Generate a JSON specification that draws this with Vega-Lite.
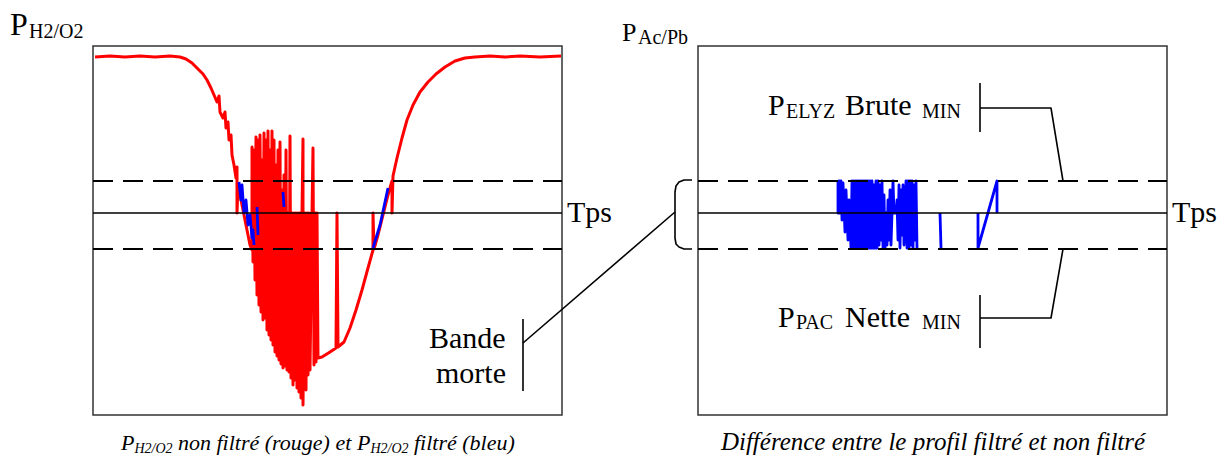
{
  "$schema": "https://vega.github.io/schema/vega-lite/v6.json",
  "width": 1228,
  "height": 462,
  "padding": 0,
  "autosize": {"type": "fit", "contains": "padding"},
  "background": "white",
  "config": {"view": {"stroke": null}},
  "datasets": {
    "boxes": [
      {"x": 93, "x2": 562, "y": 46, "y2": 415},
      {"x": 698, "x2": 1167, "y": 46, "y2": 415}
    ],
    "dashes": [
      {"x": 93, "x2": 562, "y": 181},
      {"x": 93, "x2": 562, "y": 249},
      {"x": 698, "x2": 1167, "y": 181},
      {"x": 698, "x2": 1167, "y": 249}
    ],
    "black": [
      {"s": "tpsL", "i": 1, "x": 93, "y": 213},
      {"s": "tpsL", "i": 2, "x": 562, "y": 213},
      {"s": "tpsR", "i": 1, "x": 698, "y": 213},
      {"s": "tpsR", "i": 2, "x": 1167, "y": 213},
      {"s": "bmV", "i": 1, "x": 523, "y": 319},
      {"s": "bmV", "i": 2, "x": 523, "y": 391},
      {"s": "bmC", "i": 1, "x": 523, "y": 343},
      {"s": "bmC", "i": 2, "x": 675, "y": 212},
      {"s": "brace", "i": 1, "x": 692, "y": 180},
      {"s": "brace", "i": 2, "x": 684, "y": 180},
      {"s": "brace", "i": 3, "x": 679, "y": 182},
      {"s": "brace", "i": 4, "x": 676, "y": 186},
      {"s": "brace", "i": 5, "x": 675, "y": 192},
      {"s": "brace", "i": 6, "x": 675, "y": 238},
      {"s": "brace", "i": 7, "x": 676, "y": 244},
      {"s": "brace", "i": 8, "x": 679, "y": 247},
      {"s": "brace", "i": 9, "x": 684, "y": 249},
      {"s": "brace", "i": 10, "x": 692, "y": 249},
      {"s": "upV", "i": 1, "x": 980, "y": 83},
      {"s": "upV", "i": 2, "x": 980, "y": 132},
      {"s": "upH", "i": 1, "x": 980, "y": 108},
      {"s": "upH", "i": 2, "x": 1051, "y": 108},
      {"s": "upH", "i": 3, "x": 1063, "y": 181},
      {"s": "loV", "i": 1, "x": 980, "y": 295},
      {"s": "loV", "i": 2, "x": 980, "y": 348},
      {"s": "loH", "i": 1, "x": 980, "y": 318},
      {"s": "loH", "i": 2, "x": 1051, "y": 318},
      {"s": "loH", "i": 3, "x": 1063, "y": 249}
    ],
    "red": [
      {"i": 1, "x": 95, "y": 57}, {"i": 2, "x": 110, "y": 56}, {"i": 3, "x": 125, "y": 57}, {"i": 4, "x": 140, "y": 56},
      {"i": 5, "x": 155, "y": 57}, {"i": 6, "x": 170, "y": 56}, {"i": 7, "x": 180, "y": 57}, {"i": 8, "x": 186, "y": 59},
      {"i": 9, "x": 192, "y": 63}, {"i": 10, "x": 198, "y": 69}, {"i": 11, "x": 203, "y": 74}, {"i": 12, "x": 207, "y": 80},
      {"i": 13, "x": 211, "y": 88}, {"i": 14, "x": 214, "y": 95}, {"i": 15, "x": 217, "y": 102}, {"i": 16, "x": 219, "y": 96},
      {"i": 17, "x": 220, "y": 112}, {"i": 18, "x": 223, "y": 118}, {"i": 19, "x": 225, "y": 112}, {"i": 20, "x": 226, "y": 128},
      {"i": 21, "x": 228, "y": 122}, {"i": 22, "x": 229, "y": 140}, {"i": 23, "x": 231, "y": 135}, {"i": 24, "x": 232, "y": 155},
      {"i": 25, "x": 234, "y": 165}, {"i": 26, "x": 236, "y": 178}, {"i": 27, "x": 237, "y": 167}, {"i": 28, "x": 237, "y": 213},
      {"i": 29, "x": 238, "y": 185}, {"i": 30, "x": 241, "y": 200}, {"i": 31, "x": 244, "y": 215}, {"i": 32, "x": 247, "y": 230},
      {"i": 33, "x": 250, "y": 245}, {"i": 34, "x": 252, "y": 250},
      {"i": 35, "x": 252, "y": 147}, {"i": 36, "x": 253, "y": 262}, {"i": 37, "x": 254, "y": 150}, {"i": 38, "x": 255, "y": 280},
      {"i": 39, "x": 256, "y": 137}, {"i": 40, "x": 257, "y": 295}, {"i": 41, "x": 258, "y": 140}, {"i": 42, "x": 259, "y": 305},
      {"i": 43, "x": 260, "y": 135}, {"i": 44, "x": 261, "y": 312}, {"i": 45, "x": 262, "y": 160}, {"i": 46, "x": 263, "y": 320},
      {"i": 47, "x": 264, "y": 133}, {"i": 48, "x": 265, "y": 318}, {"i": 49, "x": 266, "y": 140}, {"i": 50, "x": 267, "y": 330},
      {"i": 51, "x": 268, "y": 131}, {"i": 52, "x": 269, "y": 335}, {"i": 53, "x": 270, "y": 150}, {"i": 54, "x": 271, "y": 340},
      {"i": 55, "x": 272, "y": 131}, {"i": 56, "x": 273, "y": 345}, {"i": 57, "x": 274, "y": 140}, {"i": 58, "x": 275, "y": 352},
      {"i": 59, "x": 276, "y": 165}, {"i": 60, "x": 277, "y": 356}, {"i": 61, "x": 278, "y": 150}, {"i": 62, "x": 279, "y": 360},
      {"i": 63, "x": 280, "y": 142}, {"i": 64, "x": 281, "y": 364}, {"i": 65, "x": 282, "y": 190}, {"i": 66, "x": 283, "y": 368},
      {"i": 67, "x": 284, "y": 175}, {"i": 68, "x": 285, "y": 366}, {"i": 69, "x": 286, "y": 150}, {"i": 70, "x": 287, "y": 370},
      {"i": 71, "x": 288, "y": 213}, {"i": 72, "x": 289, "y": 372}, {"i": 73, "x": 290, "y": 136}, {"i": 74, "x": 291, "y": 378},
      {"i": 75, "x": 292, "y": 213}, {"i": 76, "x": 293, "y": 385}, {"i": 77, "x": 294, "y": 213}, {"i": 78, "x": 295, "y": 380},
      {"i": 79, "x": 296, "y": 213}, {"i": 80, "x": 297, "y": 388}, {"i": 81, "x": 298, "y": 213}, {"i": 82, "x": 299, "y": 392},
      {"i": 83, "x": 300, "y": 213}, {"i": 84, "x": 301, "y": 398}, {"i": 85, "x": 302, "y": 213}, {"i": 86, "x": 303, "y": 139},
      {"i": 87, "x": 303, "y": 405}, {"i": 88, "x": 305, "y": 213}, {"i": 89, "x": 306, "y": 390}, {"i": 90, "x": 307, "y": 213},
      {"i": 91, "x": 308, "y": 375}, {"i": 92, "x": 309, "y": 213}, {"i": 93, "x": 310, "y": 370}, {"i": 94, "x": 312, "y": 213},
      {"i": 95, "x": 313, "y": 148}, {"i": 96, "x": 314, "y": 365}, {"i": 97, "x": 315, "y": 213}, {"i": 98, "x": 316, "y": 362},
      {"i": 99, "x": 317, "y": 213}, {"i": 100, "x": 318, "y": 358},
      {"i": 101, "x": 322, "y": 357}, {"i": 102, "x": 330, "y": 352}, {"i": 103, "x": 336, "y": 348}, {"i": 104, "x": 337, "y": 213},
      {"i": 105, "x": 338, "y": 347}, {"i": 106, "x": 344, "y": 342}, {"i": 107, "x": 350, "y": 328}, {"i": 108, "x": 356, "y": 310},
      {"i": 109, "x": 362, "y": 290}, {"i": 110, "x": 368, "y": 268}, {"i": 111, "x": 373, "y": 250}, {"i": 112, "x": 373, "y": 213},
      {"i": 113, "x": 374, "y": 249}, {"i": 114, "x": 378, "y": 235}, {"i": 115, "x": 383, "y": 215}, {"i": 116, "x": 388, "y": 195},
      {"i": 117, "x": 392, "y": 181}, {"i": 118, "x": 392, "y": 213}, {"i": 119, "x": 393, "y": 176}, {"i": 120, "x": 397, "y": 158},
      {"i": 121, "x": 402, "y": 138}, {"i": 122, "x": 407, "y": 120}, {"i": 123, "x": 413, "y": 105}, {"i": 124, "x": 420, "y": 92},
      {"i": 125, "x": 428, "y": 82}, {"i": 126, "x": 436, "y": 74}, {"i": 127, "x": 445, "y": 67}, {"i": 128, "x": 455, "y": 61},
      {"i": 129, "x": 465, "y": 58}, {"i": 130, "x": 475, "y": 57}, {"i": 131, "x": 490, "y": 56}, {"i": 132, "x": 505, "y": 57},
      {"i": 133, "x": 520, "y": 56}, {"i": 134, "x": 540, "y": 57}, {"i": 135, "x": 561, "y": 56}
    ],
    "blue": [
      {"s": "L1", "i": 1, "x": 239, "y": 182}, {"s": "L1", "i": 2, "x": 241, "y": 200}, {"s": "L1", "i": 3, "x": 242, "y": 185},
      {"s": "L1", "i": 4, "x": 244, "y": 213}, {"s": "L1", "i": 5, "x": 246, "y": 200}, {"s": "L1", "i": 6, "x": 248, "y": 225},
      {"s": "L1", "i": 7, "x": 250, "y": 215}, {"s": "L1", "i": 8, "x": 252, "y": 238}, {"s": "L1", "i": 9, "x": 253, "y": 230},
      {"s": "L1", "i": 10, "x": 254, "y": 245},
      {"s": "L2", "i": 1, "x": 257, "y": 207}, {"s": "L2", "i": 2, "x": 258, "y": 235},
      {"s": "L3", "i": 1, "x": 283, "y": 192}, {"s": "L3", "i": 2, "x": 284, "y": 207},
      {"s": "L4", "i": 1, "x": 373, "y": 248}, {"s": "L4", "i": 2, "x": 380, "y": 225}, {"s": "L4", "i": 3, "x": 388, "y": 188},
      {"s": "R1", "i": 1, "x": 838, "y": 181}, {"s": "R1", "i": 2, "x": 838, "y": 213}, {"s": "R1", "i": 3, "x": 839, "y": 181},
      {"s": "R1", "i": 4, "x": 840, "y": 213}, {"s": "R1", "i": 5, "x": 841, "y": 181}, {"s": "R1", "i": 6, "x": 842, "y": 220},
      {"s": "R1", "i": 7, "x": 843, "y": 183}, {"s": "R1", "i": 8, "x": 845, "y": 232}, {"s": "R1", "i": 9, "x": 846, "y": 190},
      {"s": "R1", "i": 10, "x": 848, "y": 240}, {"s": "R1", "i": 11, "x": 849, "y": 200}, {"s": "R1", "i": 12, "x": 851, "y": 248},
      {"s": "R1", "i": 13, "x": 852, "y": 181}, {"s": "R1", "i": 14, "x": 853, "y": 248}, {"s": "R1", "i": 15, "x": 854, "y": 181},
      {"s": "R1", "i": 16, "x": 855, "y": 248}, {"s": "R1", "i": 17, "x": 856, "y": 181}, {"s": "R1", "i": 18, "x": 857, "y": 248},
      {"s": "R1", "i": 19, "x": 858, "y": 181}, {"s": "R1", "i": 20, "x": 859, "y": 248}, {"s": "R1", "i": 21, "x": 860, "y": 181},
      {"s": "R1", "i": 22, "x": 861, "y": 248}, {"s": "R1", "i": 23, "x": 862, "y": 181}, {"s": "R1", "i": 24, "x": 863, "y": 248},
      {"s": "R1", "i": 25, "x": 864, "y": 181}, {"s": "R1", "i": 26, "x": 865, "y": 248}, {"s": "R1", "i": 27, "x": 866, "y": 181},
      {"s": "R1", "i": 28, "x": 867, "y": 248}, {"s": "R1", "i": 29, "x": 868, "y": 181}, {"s": "R1", "i": 30, "x": 869, "y": 248},
      {"s": "R1", "i": 31, "x": 870, "y": 181}, {"s": "R1", "i": 32, "x": 871, "y": 248}, {"s": "R1", "i": 33, "x": 872, "y": 181},
      {"s": "R1", "i": 34, "x": 873, "y": 248}, {"s": "R1", "i": 35, "x": 874, "y": 185}, {"s": "R1", "i": 36, "x": 875, "y": 248},
      {"s": "R1", "i": 37, "x": 876, "y": 181}, {"s": "R1", "i": 38, "x": 877, "y": 248}, {"s": "R1", "i": 39, "x": 878, "y": 181},
      {"s": "R1", "i": 40, "x": 879, "y": 245}, {"s": "R1", "i": 41, "x": 880, "y": 185}, {"s": "R1", "i": 42, "x": 881, "y": 240},
      {"s": "R1", "i": 43, "x": 882, "y": 181}, {"s": "R1", "i": 44, "x": 883, "y": 248}, {"s": "R1", "i": 45, "x": 884, "y": 195},
      {"s": "R1", "i": 46, "x": 885, "y": 248}, {"s": "R1", "i": 47, "x": 886, "y": 213}, {"s": "R1", "i": 48, "x": 887, "y": 245},
      {"s": "R1", "i": 49, "x": 888, "y": 200}, {"s": "R1", "i": 50, "x": 889, "y": 240}, {"s": "R1", "i": 51, "x": 890, "y": 190},
      {"s": "R1", "i": 52, "x": 891, "y": 245}, {"s": "R1", "i": 53, "x": 893, "y": 181}, {"s": "R1", "i": 54, "x": 894, "y": 213},
      {"s": "R1", "i": 55, "x": 896, "y": 213}, {"s": "R1", "i": 56, "x": 897, "y": 200}, {"s": "R1", "i": 57, "x": 898, "y": 240},
      {"s": "R1", "i": 58, "x": 899, "y": 185}, {"s": "R1", "i": 59, "x": 900, "y": 248}, {"s": "R1", "i": 60, "x": 901, "y": 190},
      {"s": "R1", "i": 61, "x": 902, "y": 235}, {"s": "R1", "i": 62, "x": 903, "y": 185}, {"s": "R1", "i": 63, "x": 904, "y": 245},
      {"s": "R1", "i": 64, "x": 906, "y": 181}, {"s": "R1", "i": 65, "x": 907, "y": 248}, {"s": "R1", "i": 66, "x": 908, "y": 181},
      {"s": "R1", "i": 67, "x": 909, "y": 248}, {"s": "R1", "i": 68, "x": 910, "y": 181}, {"s": "R1", "i": 69, "x": 911, "y": 245},
      {"s": "R1", "i": 70, "x": 912, "y": 181}, {"s": "R1", "i": 71, "x": 913, "y": 248}, {"s": "R1", "i": 72, "x": 914, "y": 185},
      {"s": "R1", "i": 73, "x": 915, "y": 240}, {"s": "R1", "i": 74, "x": 916, "y": 181}, {"s": "R1", "i": 75, "x": 917, "y": 248},
      {"s": "R2", "i": 1, "x": 940, "y": 213}, {"s": "R2", "i": 2, "x": 941, "y": 248},
      {"s": "R3", "i": 1, "x": 978, "y": 213}, {"s": "R3", "i": 2, "x": 978, "y": 248}, {"s": "R3", "i": 3, "x": 997, "y": 181},
      {"s": "R3", "i": 4, "x": 997, "y": 213}
    ],
    "t32": [
      {"x": 10, "y": 35, "label": "P"}
    ],
    "t30": [
      {"x": 567, "y": 222, "label": "Tps"},
      {"x": 1172, "y": 222, "label": "Tps"},
      {"x": 429, "y": 348, "label": "Bande"},
      {"x": 436, "y": 383, "label": "morte"},
      {"x": 768, "y": 115, "label": "P"},
      {"x": 845, "y": 115, "label": "Brute"},
      {"x": 778, "y": 327, "label": "P"},
      {"x": 845, "y": 327, "label": "Nette"}
    ],
    "t26": [
      {"x": 622, "y": 41, "label": "P"}
    ],
    "t20": [
      {"x": 29, "y": 38, "label": "H2/O2"},
      {"x": 638, "y": 44, "label": "Ac/Pb"},
      {"x": 786, "y": 118, "label": "ELYZ"},
      {"x": 922, "y": 118, "label": "MIN"},
      {"x": 796, "y": 329, "label": "PAC"},
      {"x": 922, "y": 329, "label": "MIN"}
    ],
    "cap": [
      {"x": 121, "y": 450, "label": "P"},
      {"x": 178, "y": 450, "label": "non filtré (rouge) et"},
      {"x": 357, "y": 450, "label": "P"},
      {"x": 414, "y": 450, "label": "filtré (bleu)"}
    ],
    "capsub": [
      {"x": 134.5, "y": 453, "label": "H2/O2"},
      {"x": 370.5, "y": 453, "label": "H2/O2"}
    ],
    "cap2": [
      {"x": 933, "y": 450, "label": "Différence entre le profil filtré et non filtré"}
    ]
  },
  "encoding": {
    "x": {"field": "x", "type": "quantitative", "scale": {"domain": [0, 1228], "nice": false, "zero": false}, "axis": null},
    "y": {"field": "y", "type": "quantitative", "scale": {"domain": [0, 462], "nice": false, "zero": false, "reverse": true}, "axis": null}
  },
  "layer": [
    {
      "data": {"name": "boxes"},
      "mark": {"type": "rect", "fill": null, "fillOpacity": 0, "stroke": "#333333", "strokeWidth": 1.5},
      "encoding": {"x2": {"field": "x2"}, "y2": {"field": "y2"}}
    },
    {
      "data": {"name": "red"},
      "mark": {"type": "line", "color": "#ff0000", "strokeWidth": 3, "strokeJoin": "round"},
      "encoding": {"order": {"field": "i", "type": "quantitative"}}
    },
    {
      "data": {"name": "blue"},
      "mark": {"type": "line", "color": "#0000ff", "strokeWidth": 2.8, "strokeJoin": "round"},
      "encoding": {"detail": {"field": "s"}, "order": {"field": "i", "type": "quantitative"}}
    },
    {
      "data": {"name": "dashes"},
      "mark": {"type": "rule", "color": "#000000", "strokeWidth": 2, "strokeDash": [20, 10]},
      "encoding": {"x2": {"field": "x2"}}
    },
    {
      "data": {"name": "black"},
      "mark": {"type": "line", "color": "#000000", "strokeWidth": 1.6, "strokeJoin": "round"},
      "encoding": {"detail": {"field": "s"}, "order": {"field": "i", "type": "quantitative"}}
    },
    {
      "data": {"name": "t32"},
      "mark": {"type": "text", "font": "Liberation Serif", "fontSize": 32, "align": "left", "baseline": "alphabetic", "color": "#000000"},
      "encoding": {"text": {"field": "label"}}
    },
    {
      "data": {"name": "t30"},
      "mark": {"type": "text", "font": "Liberation Serif", "fontSize": 30, "align": "left", "baseline": "alphabetic", "color": "#000000"},
      "encoding": {"text": {"field": "label"}}
    },
    {
      "data": {"name": "t26"},
      "mark": {"type": "text", "font": "Liberation Serif", "fontSize": 26, "align": "left", "baseline": "alphabetic", "color": "#000000"},
      "encoding": {"text": {"field": "label"}}
    },
    {
      "data": {"name": "t20"},
      "mark": {"type": "text", "font": "Liberation Serif", "fontSize": 20, "align": "left", "baseline": "alphabetic", "color": "#000000"},
      "encoding": {"text": {"field": "label"}}
    },
    {
      "data": {"name": "cap"},
      "mark": {"type": "text", "font": "Liberation Serif", "fontSize": 22, "fontStyle": "italic", "align": "left", "baseline": "alphabetic", "color": "#000000"},
      "encoding": {"text": {"field": "label"}}
    },
    {
      "data": {"name": "capsub"},
      "mark": {"type": "text", "font": "Liberation Serif", "fontSize": 14, "fontStyle": "italic", "align": "left", "baseline": "alphabetic", "color": "#000000"},
      "encoding": {"text": {"field": "label"}}
    },
    {
      "data": {"name": "cap2"},
      "mark": {"type": "text", "font": "Liberation Serif", "fontSize": 25, "fontStyle": "italic", "align": "center", "baseline": "alphabetic", "color": "#000000"},
      "encoding": {"text": {"field": "label"}}
    }
  ]
}
